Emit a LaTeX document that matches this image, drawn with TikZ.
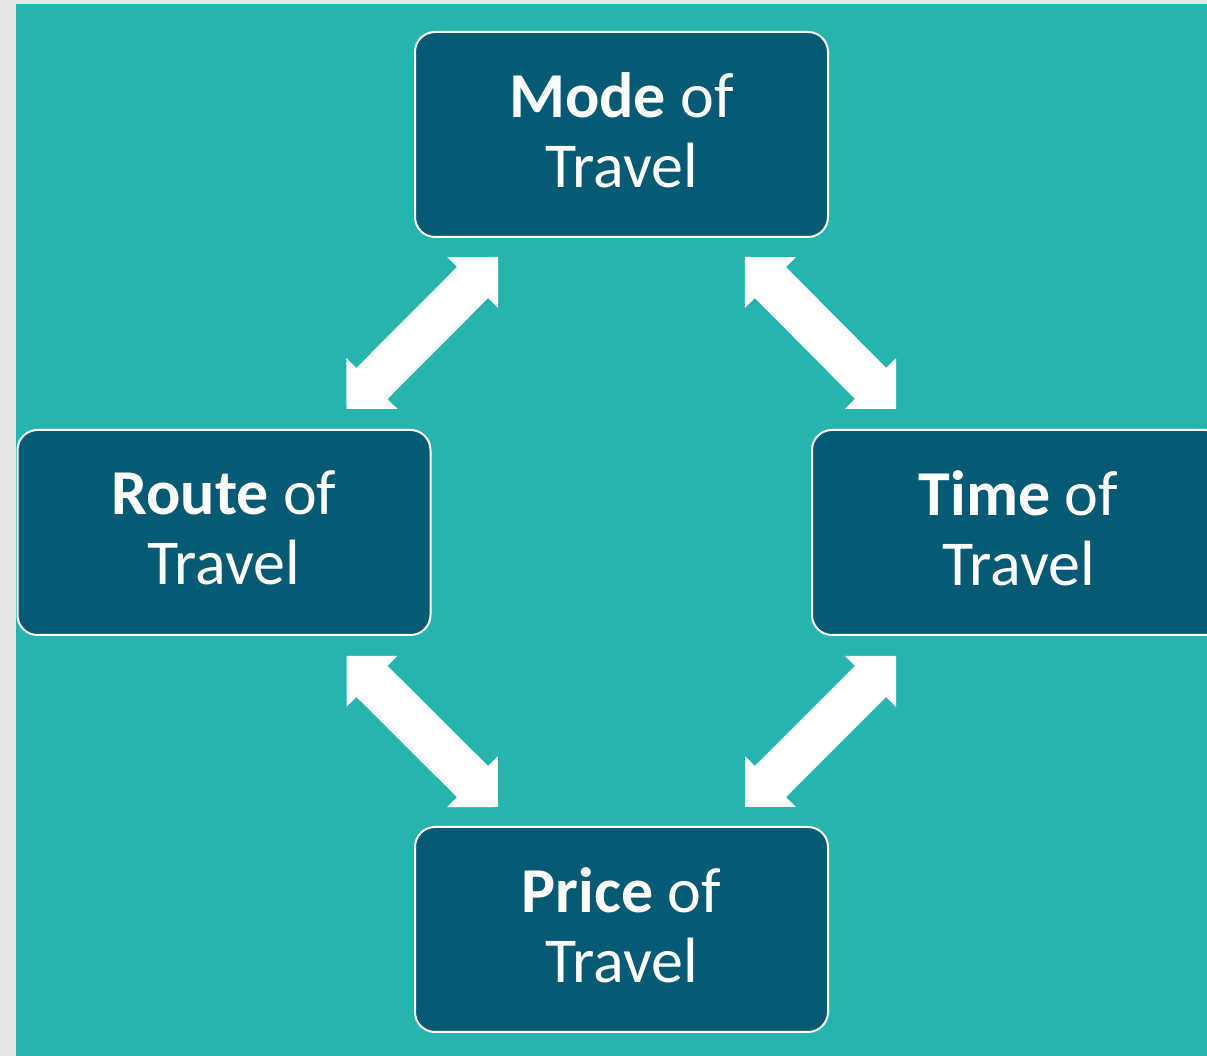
\documentclass[tikz,border=0pt]{standalone}
\usepackage{fontspec}
\setmainfont{Carlito}
\usetikzlibrary{calc}
\definecolor{pagegrey}{HTML}{E6E6E6}
\definecolor{slideteal}{HTML}{25B5AE}
\definecolor{boxblue}{HTML}{065A73}

\tikzset{
  box/.style={rectangle, rounded corners=20pt, draw=white, line width=2pt,
    fill=boxblue, text=white, align=center, inner sep=0pt, outer sep=0pt,
    minimum width=413pt, minimum height=205pt, text depth=9pt,
    font=\fontsize{64}{70}\selectfont},
  blockarrow/.style={fill=white, to path={
    -- ($(\tikztostart)!36pt!(\tikztotarget)!36pt!90:(\tikztotarget)$)
    -- ($(\tikztostart)!36pt!(\tikztotarget)!22pt!90:(\tikztotarget)$)
    -- ($(\tikztotarget)!36pt!(\tikztostart)!22pt!-90:(\tikztostart)$)
    -- ($(\tikztotarget)!36pt!(\tikztostart)!36pt!-90:(\tikztostart)$)
    -- (\tikztotarget)
    -- ($(\tikztotarget)!36pt!(\tikztostart)!36pt!90:(\tikztostart)$)
    -- ($(\tikztotarget)!36pt!(\tikztostart)!22pt!90:(\tikztostart)$)
    -- ($(\tikztostart)!36pt!(\tikztotarget)!22pt!-90:(\tikztotarget)$)
    -- ($(\tikztostart)!36pt!(\tikztotarget)!36pt!-90:(\tikztotarget)$)
    -- cycle}}
}

\begin{document}
\begin{tikzpicture}[x=1pt,y=1pt]
\useasboundingbox (0,0) rectangle (1207,1056);
\fill[pagegrey] (0,0) rectangle (1207,1056);
\fill[slideteal] (16,0) rectangle (1207,1052);

\node[box] (mode) at (621.5,921.5) {\textbf{Mode} of\\Travel};
\node[box] (route) at (224,523.5) {\textbf{Route} of\\Travel};
\node[box] (time) at (1018.5,523.5) {\textbf{Time} of\\Travel};
\node[box] (price) at (621.5,126.5) {\textbf{Price} of\\Travel};

% arrow ends, a little off the box corners
\coordinate (mr) at ([shift={(83,-20)}]mode.south west);
\coordinate (rm) at ([shift={(-84,21)}]route.north east);
\coordinate (mt) at ([shift={(-83,-20)}]mode.south east);
\coordinate (tm) at ([shift={(84,21)}]time.north west);
\coordinate (rp) at ([shift={(-84,-21)}]route.south east);
\coordinate (pr) at ([shift={(83,20)}]price.north west);
\coordinate (tp) at ([shift={(84,-21)}]time.south west);
\coordinate (pt) at ([shift={(-83,20)}]price.north east);

\fill[blockarrow] (mr) to (rm);
\fill[blockarrow] (mt) to (tm);
\fill[blockarrow] (rp) to (pr);
\fill[blockarrow] (tp) to (pt);
\end{tikzpicture}
\end{document}
